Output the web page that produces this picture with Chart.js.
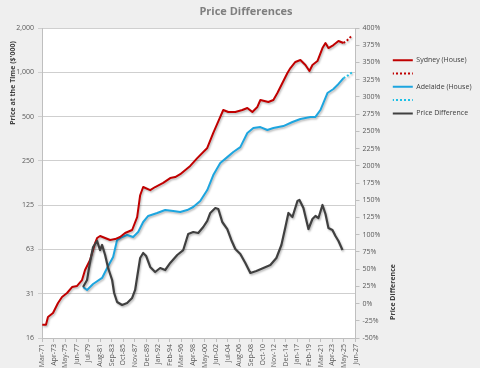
<!DOCTYPE html>
<html>
<head>
<meta charset="utf-8">
<script src="https://cdn.jsdelivr.net/npm/chart.js@4/dist/chart.umd.min.js"></script>
<style>
html,body{margin:0;padding:0;background:#efefef;}
canvas{display:block;}
</style>
</head>
<body>
<canvas id="chart" width="480" height="368"></canvas>
<script>
// dates are decimal years (Jan = .00)
var sydYears = [1971.21,1971.88,1972.24,1973.14,1974.04,1974.76,1975.66,1976.56,1977.46,1978.35,1978.89,1979.79,1980.69,1981.05,1981.59,1982.49,1983.39,1984.29,1985.18,1986.08,1987.34,1988.24,1988.78,1989.32,1990.58,1991.47,1992.91,1994.17,1995.07,1995.97,1997.76,1999.02,2000.82,2001.90,2003.15,2003.69,2004.59,2005.85,2007.11,2008.01,2008.91,2009.81,2010.35,2011.78,2012.68,2013.40,2014.30,2015.20,2015.74,2016.63,2017.53,2018.43,2019.15,2019.69,2020.59,2021.49,2022.03,2022.56,2023.46,2024.36,2025.26];
var sydPrices = [19.2,19.2,21.7,23.1,27.0,29.7,31.6,34.7,35.3,38.7,45.3,53.0,69.1,74.7,77.1,74.7,72.4,73.5,75.9,80.8,84.7,103.8,146,166,158,166,177,191,194,203,231,261,306,387,497,554,537,537,554,572,537,581,648,628,648,723,845,989,1069,1175,1211,1121,1020,1121,1192,1462,1581,1462,1532,1631,1581];
var sydProjYears = [2025.26,2025.98,2026.70];
var sydProjPrices = [1581,1657,1764];

var adlYears = [1978.53,1979.25,1980.33,1981.95,1982.85,1983.93,1984.64,1985.54,1986.44,1987.52,1988.42,1989.32,1990.22,1991.83,1993.27,1994.71,1995.97,1997.22,1998.30,1999.56,2000.82,2001.90,2003.15,2004.41,2005.49,2006.75,2008.01,2009.09,2010.34,2011.60,2012.68,2014.48,2016.10,2017.53,2019.33,2020.23,2021.12,2022.38,2023.46,2024.18,2025.26];
var adlPrices = [34.7,33.1,36.4,40.0,46.7,55.5,72.4,75.9,78.3,75.9,82.1,96.0,105.5,110.5,115.8,114,112.3,115.8,121.4,133.3,158.4,200,241.7,265,287,310,387,418,424,405,418,431,459,481,497,497,554,723,770,819,914];
var adlProjYears = [2025.26,2026.16,2026.88];
var adlProjPrices = [914,958,1004];

var diffYears = [1978.53,1979.25,1979.79,1980.33,1981.05,1981.59,1981.95,1982.49,1983.03,1983.75,1984.11,1984.64,1985.54,1986.44,1987.34,1987.88,1988.24,1988.78,1989.32,1989.86,1990.58,1991.47,1992.37,1993.27,1994.17,1995.43,1996.51,1997.40,1998.30,1999.20,2000.10,2000.82,2001.36,2002.26,2002.80,2003.51,2004.41,2005.13,2005.85,2006.75,2007.65,2008.55,2009.63,2010.89,2012.14,2013.22,2014.12,2014.84,2015.38,2016.10,2017.00,2017.36,2018.07,2018.97,2019.69,2020.23,2020.77,2021.49,2022.03,2022.56,2023.28,2023.82,2024.36,2025.08];
var diffPct = [24.0,34.2,60.3,82.1,90.8,77.7,85.0,70.5,51.6,34.2,15.3,2.3,-2.1,0.8,8.1,19.7,38.5,66.1,73.4,69.0,53.1,45.8,51.6,48.7,58.9,70.5,77.7,101.0,103.9,102.4,111.1,120.0,131.5,138.7,137.3,118.4,108.2,92.3,79.2,71.9,58.9,44.4,47.3,51.6,56.0,66.1,85.0,111.1,131.5,125.6,148.9,150.3,138.7,108.2,122.7,127.1,124.2,143.1,130.0,109.7,106.8,98.1,90.8,77.7];

var xTickLabels = ['Mar-71','Apr-73','May-75','Jun-77','Jul-79','Aug-81','Sep-83','Oct-85','Nov-87','Dec-89','Jan-92','Feb-94','Mar-96','Apr-98','May-00','Jun-02','Jul-04','Aug-06','Sep-08','Oct-10','Nov-12','Dec-14','Jan-17','Feb-19','Mar-21','Apr-23','May-25','Jun-27'];
var leftTickValues = [15.625,31.25,62.5,125,250,500,1000,2000];
var leftTickLabels = ['16','31','63','125','250','500','1,000','2,000'];

var FONT = "'Open Sans', sans-serif";
var MONTHS = ['Jan','Feb','Mar','Apr','May','Jun','Jul','Aug','Sep','Oct','Nov','Dec'];

function labelToYear(lbl){
    var p = lbl.split('-');
    var yy = parseInt(p[1], 10);
    return (yy >= 50 ? 1900 + yy : 2000 + yy) + MONTHS.indexOf(p[0]) / 12;
}
var xTickPos = xTickLabels.map(labelToYear);

function pts(xs, ys){
    var out = [];
    for (var i = 0; i < xs.length; i++) out.push({x: xs[i], y: ys[i]});
    return out;
}

// 2px on / 2px off fill, used for the dotted legend swatches
function dotFill(ctx, color){
    var c = document.createElement('canvas');
    c.width = 4; c.height = 2;
    var g = c.getContext('2d');
    g.fillStyle = color;
    g.fillRect(0, 0, 2, 2);
    return ctx.createPattern(c, 'repeat');
}

var LEGEND_W = 93.5;
var PLOT_RIGHT = 355.5;

var plotBg = {
    id: 'plotBg',
    beforeDraw: function(chart){
        var ctx = chart.ctx, a = chart.chartArea;
        ctx.save();
        ctx.fillStyle = '#efefef';
        ctx.fillRect(0, 0, chart.width, chart.height);
        ctx.fillStyle = '#ffffff';
        ctx.fillRect(a.left, a.top, a.right - a.left, a.bottom - a.top);
        ctx.restore();
    }
};

// legend box keeps a fixed width so it starts where the excel one does
var legendWidth = {
    id: 'legendWidth',
    beforeLayout: function(chart){
        var lg = chart.legend;
        if (!lg || lg._fixedW) return;
        var fit = lg.fit;
        lg.fit = function(){
            fit.call(this);
            this.width = LEGEND_W;
        };
        lg._fixedW = true;
    }
};

var lineShadow = {
    id: 'lineShadow',
    beforeDatasetDraw: function(chart){
        var c = chart.ctx;
        c.save();
        c.shadowColor = 'rgba(0,0,0,0.28)';
        c.shadowBlur = 2;
        c.shadowOffsetX = 1;
        c.shadowOffsetY = 1.5;
    },
    afterDatasetDraw: function(chart){
        chart.ctx.restore();
    }
};

// excel puts both axis titles off-centre, so draw them by hand
var axisTitles = {
    id: 'axisTitles',
    afterDraw: function(chart){
        var ctx = chart.ctx, a = chart.chartArea;
        ctx.save();
        ctx.font = 'bold 7px ' + FONT;
        ctx.fillStyle = '#404040';
        ctx.textAlign = 'center';
        ctx.textBaseline = 'middle';
        ctx.translate(a.left - 29, a.top + 55);
        ctx.rotate(-Math.PI / 2);
        ctx.fillText("Price at the Time ($'000)", 0, 0);
        ctx.restore();

        ctx.save();
        ctx.font = 'bold 7px ' + FONT;
        ctx.fillStyle = '#404040';
        ctx.textAlign = 'center';
        ctx.textBaseline = 'middle';
        ctx.translate(a.right + 37, a.bottom - 46);
        ctx.rotate(-Math.PI / 2);
        ctx.fillText('Price Difference', 0, 0);
        ctx.restore();
    }
};

var tickFont = {family: FONT, size: 7};
var tickColor = '#595959';
var axisColor = '#bfbfbf';

var chart = new Chart(document.getElementById('chart'), {
    type: 'line',
    data: {
        datasets: [
            {label: 'Sydney (House)', data: pts(sydYears, sydPrices), yAxisID: 'y',
             borderColor: '#c00000', backgroundColor: '#c00000', borderWidth: 2},
            {label: '', data: pts(sydProjYears, sydProjPrices), yAxisID: 'y',
             borderColor: '#c00000', backgroundColor: '#c00000', borderWidth: 2, borderDash: [2, 2]},
            {label: 'Adelaide (House)', data: pts(adlYears, adlPrices), yAxisID: 'y',
             borderColor: '#1da5df', backgroundColor: '#1da5df', borderWidth: 2},
            {label: '', data: pts(adlProjYears, adlProjPrices), yAxisID: 'y',
             borderColor: '#1dc0e6', backgroundColor: '#1dc0e6', borderWidth: 2, borderDash: [2, 2]},
            {label: 'Price Difference', data: pts(diffYears, diffPct), yAxisID: 'y2', order: -1,
             borderColor: '#404040', backgroundColor: '#404040', borderWidth: 2.2}
        ]
    },
    options: {
        responsive: false,
        animation: false,
        parsing: false,
        elements: {
            line: {tension: 0, borderJoinStyle: 'round', borderCapStyle: 'butt'},
            point: {radius: 0, hoverRadius: 0}
        },
        layout: {padding: {left: 12, right: 0, top: 0, bottom: 0}},
        plugins: {
            tooltip: {enabled: false},
            title: {
                display: true, text: 'Price Differences', color: '#7f7f7f',
                font: {family: FONT, size: 11, weight: 'bold'},
                padding: {top: 5, bottom: 9.8}
            },
            legend: {
                position: 'right', align: 'start',
                title: {display: true, text: '', font: {size: 7}, padding: {top: 42, bottom: 0}},
                labels: {
                    boxWidth: 20, boxHeight: 2, padding: 6.3,
                    font: {family: FONT, size: 7}, color: '#404040',
                    sort: function(a, b){ return a.datasetIndex - b.datasetIndex; },
                    generateLabels: function(chart){
                        var items = Chart.defaults.plugins.legend.labels.generateLabels(chart);
                        items.forEach(function(it){
                            var ds = chart.data.datasets[it.datasetIndex];
                            it.lineWidth = 0;
                            it.fillStyle = ds.borderDash ? dotFill(chart.ctx, ds.borderColor) : ds.borderColor;
                        });
                        return items;
                    }
                }
            }
        },
        scales: {
            x: {
                type: 'linear',
                min: xTickPos[0], max: xTickPos[xTickPos.length - 1],
                afterBuildTicks: function(s){ s.ticks = xTickPos.map(function(v){ return {value: v}; }); },
                afterFit: function(s){ s.height = 30; },
                ticks: {
                    autoSkip: false, minRotation: 90, maxRotation: 90, padding: 2,
                    font: tickFont, color: tickColor,
                    callback: function(v, i){ return xTickLabels[i]; }
                },
                grid: {drawOnChartArea: false, tickLength: 4, color: axisColor},
                border: {color: axisColor}
            },
            y: {
                type: 'logarithmic', position: 'left',
                min: leftTickValues[0], max: leftTickValues[leftTickValues.length - 1],
                afterBuildTicks: function(s){ s.ticks = leftTickValues.map(function(v){ return {value: v}; }); },
                afterFit: function(s){ s.width = 30; },
                ticks: {
                    autoSkip: false, padding: 4, font: tickFont, color: tickColor,
                    callback: function(v, i){ return leftTickLabels[i]; }
                },
                grid: {color: '#cfcfcf', tickLength: 4},
                border: {color: axisColor}
            },
            y2: {
                type: 'linear', position: 'right',
                min: -50, max: 400,
                afterFit: function(s){ s.width = s.chart.width - LEGEND_W - PLOT_RIGHT; },
                ticks: {
                    stepSize: 25, autoSkip: false, padding: 3, font: tickFont, color: tickColor,
                    callback: function(v){ return v + '%'; }
                },
                grid: {drawOnChartArea: false, tickLength: 4, color: axisColor},
                border: {color: axisColor}
            }
        }
    },
    plugins: [plotBg, legendWidth, lineShadow, axisTitles]
});
</script>
</body>
</html>
